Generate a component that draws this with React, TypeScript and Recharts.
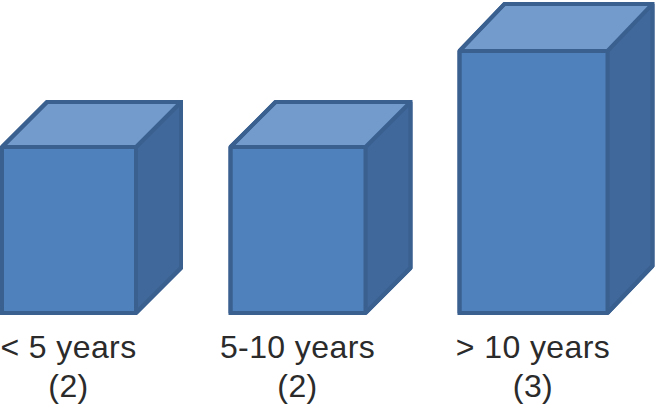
import { Bar, BarChart, XAxis, YAxis } from "recharts";

const categories = ["< 5 years", "5-10 years", "> 10 years"];
const counts = [2, 2, 3];

const data = categories.map((name, i) => ({ name, count: counts[i] }));

// bars in the picture are not evenly spaced or sized
const barWidths = [134, 135, 148];
const barShifts = [-0.5, -3.5, 0];
const depthsX = [45, 45, 45];
const depthsY = [45, 45, 47];

const FRONT = "#4f81bd";
const TOP = "#739ccd";
const SIDE = "#41689a";
const EDGE = "#3a6090";

const Box = (props: any) => {
    const { x, y, width, height, index } = props;
    const w = barWidths[index];
    const dx = depthsX[index];
    const dy = depthsY[index];
    const left = x + width / 2 + barShifts[index] - w / 2;
    const right = left + w;
    const bottom = y + height;
    const inner = { stroke: EDGE, strokeWidth: 4, strokeLinejoin: "bevel" as const };
    return (
        <g>
            <polygon
                points={`${right},${y} ${right + dx},${y - dy} ${right + dx},${bottom - dy} ${right},${bottom}`}
                fill={SIDE}
                {...inner}
            />
            <polygon
                points={`${left},${y} ${left + dx},${y - dy} ${right + dx},${y - dy} ${right},${y}`}
                fill={TOP}
                {...inner}
            />
            <rect x={left} y={y} width={w} height={height} fill={FRONT} {...inner} />
            {/* outer outline on top so the corners stay square */}
            <polygon
                points={`${left},${y} ${left + dx},${y - dy} ${right + dx},${y - dy} ${right + dx},${bottom - dy} ${right},${bottom} ${left},${bottom}`}
                fill="none"
                stroke={EDGE}
                strokeWidth={4}
                strokeLinejoin="miter"
            />
        </g>
    );
};

const Tick = (props: any) => {
    const { x, payload, index } = props;
    const cx = x + barShifts[index];
    return (
        <text
            textAnchor="middle"
            fontFamily="Liberation Sans"
            fontSize={32}
            letterSpacing={0.4}
            fill="#2b2b2b"
        >
            <tspan x={cx} y={358}>
                {payload.value}
            </tspan>
            <tspan x={cx} y={397}>
                ({counts[index]})
            </tspan>
        </text>
    );
};

export default function App() {
    return (
        <div style={{ position: "absolute", left: 0, top: 0, width: 658, height: 409 }}>
            <BarChart
                width={658}
                height={409}
                data={data}
                margin={{ top: 0, right: 9, bottom: 0, left: -47 }}
                barSize={135}
            >
                <XAxis
                    dataKey="name"
                    height={96}
                    interval={0}
                    axisLine={false}
                    tickLine={false}
                    tick={<Tick />}
                />
                <YAxis hide domain={[0.271, 3.531]} />
                <Bar dataKey="count" shape={<Box />} isAnimationActive={false} />
            </BarChart>
        </div>
    );
}
